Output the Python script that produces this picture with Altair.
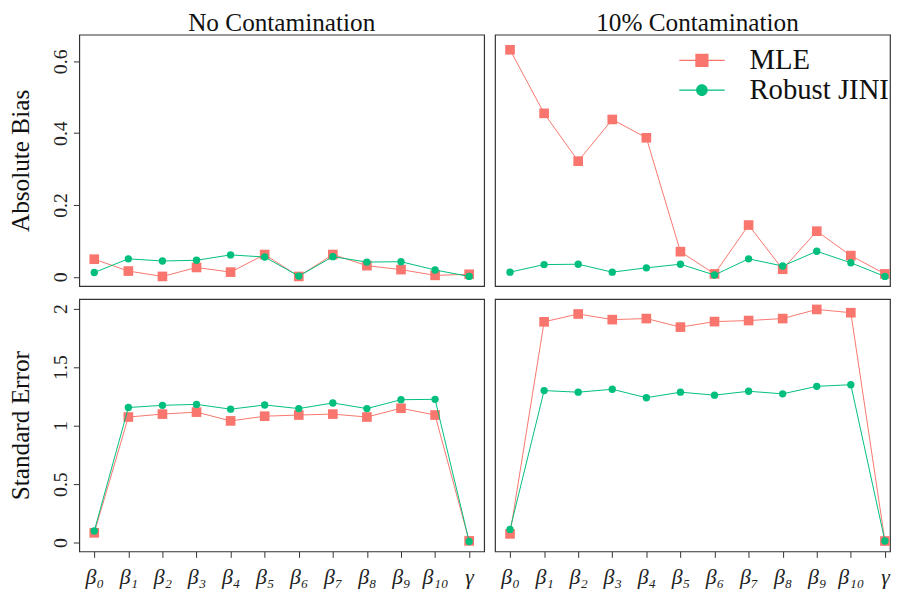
import altair as alt
import pandas as pd

# ---------------- data ----------------
param_labels = ["β₀", "β₁", "β₂", "β₃", "β₄", "β₅", "β₆", "β₇", "β₈", "β₉", "β₁₀", "γ"]
param_index = list(range(1, 13))
series_names = ["MLE", "Robust JINI"]
col_titles = ["No Contamination", "10% Contamination"]
row_titles = ["Absolute Bias", "Standard Error"]

mle_bias_clean = [0.049, 0.016, 0.001, 0.026, 0.013, 0.062, 0.001, 0.062, 0.031, 0.020, 0.004, 0.007]
jini_bias_clean = [0.012, 0.050, 0.044, 0.046, 0.061, 0.055, 0.002, 0.056, 0.041, 0.042, 0.019, 0.001]
mle_bias_cont = [0.632, 0.455, 0.322, 0.438, 0.387, 0.070, 0.008, 0.144, 0.021, 0.127, 0.059, 0.008]
jini_bias_cont = [0.013, 0.034, 0.035, 0.013, 0.025, 0.035, 0.005, 0.050, 0.030, 0.071, 0.039, 0.001]
mle_se_clean = [0.084, 1.073, 1.098, 1.115, 1.040, 1.080, 1.090, 1.098, 1.073, 1.148, 1.090, 0.015]
jini_se_clean = [0.100, 1.154, 1.173, 1.181, 1.140, 1.176, 1.145, 1.193, 1.145, 1.221, 1.224, 0.010]
mle_se_cont = [0.075, 1.886, 1.953, 1.905, 1.914, 1.841, 1.888, 1.897, 1.914, 1.992, 1.964, 0.014]
jini_se_cont = [0.112, 1.299, 1.285, 1.310, 1.238, 1.285, 1.260, 1.293, 1.271, 1.335, 1.349, 0.014]

bias_ticks = [0, 0.2, 0.4, 0.6]
se_ticks = [0, 0.5, 1, 1.5, 2]

# ---------------- style ----------------
RED = "#F8766D"
GREEN = "#00BF7D"
FONT = "Liberation Serif"
PW_LEFT = 409
PW_RIGHT = 399
STEP = PW_LEFT / 11.88

SQ_PATH = "M-1,-0.025H1V0.025H-1Z M-0.29,-0.29H0.29V0.29H-0.29Z"
CI_PATH = ("M-1,-0.025H1V0.025H-1Z M0.254,0A0.254,0.254 0 1,1 -0.254,0"
           "A0.254,0.254 0 1,1 0.254,0Z")

label_expr = "[" + ",".join("'%s'" % l for l in param_labels) + "][datum.value - 1]"


def panel(mle, jini, ydomain, yticks, ytitle, ctitle, width, height, show_x, show_y, legend,
          title_dx=0):
    df = pd.DataFrame({
        "idx": param_index * 2,
        "value": mle + jini,
        "series": [series_names[0]] * 12 + [series_names[1]] * 12,
    })
    base = alt.Chart(df)
    if show_x:
        xaxis = alt.Axis(values=param_index, labelExpr=label_expr, domain=False, grid=False,
                         ticks=True, tickSize=6, tickColor="#333333", labelFont=FONT,
                         labelFontSize=22, labelFontStyle="italic", labelColor="#222222",
                         labelPadding=9, title=None)
    else:
        xaxis = None
    if show_y:
        yaxis = alt.Axis(values=yticks, format="~g", domain=False, grid=False, ticks=True,
                         tickSize=6, tickColor="#333333", labelAngle=-90, labelFont=FONT,
                         labelFontSize=20, labelColor="#222222", labelPadding=3,
                         title=ytitle, titleFont=FONT, titleFontSize=25.5,
                         titleFontWeight="normal", titleColor="#111111", titlePadding=17)
    else:
        yaxis = None
    xmax = 0.56 + width / STEP
    x = alt.X("idx:Q", scale=alt.Scale(domain=[0.56, xmax], nice=False, zero=False), axis=xaxis)
    y = alt.Y("value:Q", scale=alt.Scale(domain=ydomain, nice=False, zero=False), axis=yaxis)

    mle_f = "datum.series == 'MLE'"
    jini_f = "datum.series == 'Robust JINI'"
    l1 = base.transform_filter(mle_f).mark_line(color=RED, strokeWidth=1).encode(x=x, y=y)
    p1 = base.transform_filter(mle_f).mark_square(color=RED, size=95, opacity=1).encode(x=x, y=y)
    l2 = base.transform_filter(jini_f).mark_line(color=GREEN, strokeWidth=1).encode(x=x, y=y)
    p2 = base.transform_filter(jini_f).mark_circle(color=GREEN, size=55, opacity=1).encode(x=x, y=y)
    layers = [l1, p1, l2, p2]
    if legend:
        leg = alt.Legend(title=None, orient="none", legendX=606, legendY=11,
                         symbolSize=2116, symbolStrokeWidth=0, clipHeight=30,
                         labelFont=FONT, labelFontSize=29, labelColor="#111111",
                         labelOffset=25, rowPadding=0, padding=0)
        lg = base.transform_filter("false").mark_point(filled=True, opacity=1).encode(
            x=x, y=y,
            color=alt.Color("series:N", scale=alt.Scale(domain=series_names, range=[RED, GREEN]),
                            legend=leg),
            shape=alt.Shape("series:N", scale=alt.Scale(domain=series_names,
                                                        range=[SQ_PATH, CI_PATH]),
                            legend=leg),
        )
        layers.append(lg)
    props = dict(width=width, height=height)
    if ctitle:
        props["title"] = alt.TitleParams(ctitle, font=FONT, fontSize=25.5, fontWeight="normal",
                                         color="#111111", offset=-2, dx=title_dx)
    return alt.layer(*layers).properties(**props)


tl = panel(mle_bias_clean, jini_bias_clean, [-0.026, 0.674], bias_ticks, row_titles[0],
           col_titles[0], PW_LEFT, 254, False, True, False)
tr = panel(mle_bias_cont, jini_bias_cont, [-0.026, 0.674], bias_ticks, row_titles[0],
           col_titles[1], PW_RIGHT, 254, False, False, True, title_dx=5)
bl = panel(mle_se_clean, jini_se_clean, [-0.075, 2.081], se_ticks, row_titles[1],
           None, PW_LEFT, 255, True, True, False)
br = panel(mle_se_cont, jini_se_cont, [-0.075, 2.081], se_ticks, row_titles[1],
           None, PW_RIGHT, 255, True, False, False)

chart = alt.concat(tl, tr, bl, br, columns=2, spacing={"row": 11, "column": 9}).properties(
    padding={"left": 0, "top": -1, "right": 0, "bottom": 0}
).configure_view(stroke="#333333", strokeWidth=1.2)

chart.save("out.html", embed_options={"renderer": "svg", "actions": False})
